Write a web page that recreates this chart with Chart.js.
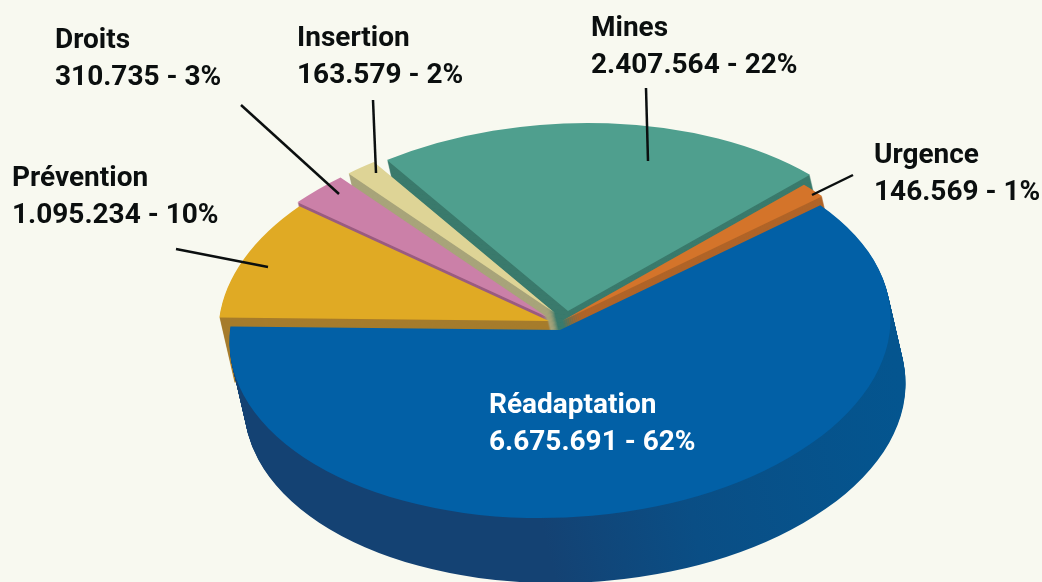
<!DOCTYPE html>
<html>
<head>
<meta charset="utf-8">
<title>Réadaptation</title>
<script src="https://cdn.jsdelivr.net/npm/chart.js@4"></script>
<style>
    html, body { margin: 0; padding: 0; background: #F8F9F0; overflow: hidden; }
    canvas { display: block; }
</style>
</head>
<body>
<canvas id="canvasPie" width="1042" height="582"></canvas>
<script>
"use strict";
// slices go clockwise, starting at the Réadaptation / Urgence boundary
var categories = ['Réadaptation', 'Prévention', 'Droits', 'Insertion', 'Mines', 'Urgence'];
var amounts = [6675691, 1095234, 310735, 163579, 2407564, 146569];
var percents = [62, 10, 3, 2, 22, 1];

var topColors = ['#0260A6', '#E0AA24', '#CB80A8', '#DED496', '#4F9F8E', '#D4742A'];
var sideColors = ['#144273', '#A67C2C', '#9A5C80', '#A8A47A', '#3A7A6C', '#B06428'];

// how the flat pie is laid down to look 3D
var centerX = 553, centerY = 330;
var squash = 0.57, shear = -0.06;
var depthX = 15, depthY = 65;
var sliceShift = [[7, 0], [-4, -9], [-6, -13], [2, -17], [15, -19], [9, -9]];
var backOrder = [4, 3, 2, 5, 1];

// where the captions go: first line x/y, then the leader line
var captionPlaces = [
    { x: 489, y: 413, color: '#FFFFFF' },
    { x: 12, y: 186, color: '#0B0F0F', line: [176, 249, 268, 267] },
    { x: 55, y: 48, color: '#0B0F0F', line: [241, 105, 339, 194] },
    { x: 297, y: 46, color: '#0B0F0F', line: [373, 100, 376, 173] },
    { x: 591, y: 36, color: '#0B0F0F', line: [646, 88, 648, 161] },
    { x: 874, y: 163, color: '#0B0F0F', line: [853, 175, 812, 195] }
];

function formatAmount(n) {
    return String(n).replace(/\B(?=(\d{3})+$)/g, '.');
}

function drawSlice(ctx, arc, index, depth, color) {
    var opts = arc.options;
    arc.options = Object.assign({}, opts, { backgroundColor: color, borderWidth: 0 });
    ctx.save();
    ctx.translate(centerX + sliceShift[index][0] + depth * depthX / depthY,
        centerY + sliceShift[index][1] + depth);
    ctx.transform(1, 0, shear, squash, 0, 0);
    ctx.translate(-arc.x, -arc.y);
    arc.draw(ctx);
    ctx.restore();
    arc.options = opts;
}

function drawSide(ctx, arc, index, color) {
    for (var d = depthY; d > 0; d--) {
        drawSlice(ctx, arc, index, d, color);
    }
}

function blueSide(ctx, arc) {
    var g = ctx.createLinearGradient(arc.x - 330, 0, arc.x + 330, 0);
    g.addColorStop(0, '#144273');
    g.addColorStop(0.5, '#144273');
    g.addColorStop(0.72, '#0A4E85');
    g.addColorStop(1, '#04558F');
    return g;
}

var pie3d = {
    id: 'pie3d',
    beforeDatasetsDraw: function (chart) {
        var ctx = chart.ctx;
        var arcs = chart.getDatasetMeta(0).data;
        backOrder.forEach(function (i) {
            drawSide(ctx, arcs[i], i, sideColors[i]);
        });
        backOrder.forEach(function (i) {
            drawSlice(ctx, arcs[i], i, 0, topColors[i]);
        });
        // the big slice sits in front of everything
        drawSide(ctx, arcs[0], 0, blueSide(ctx, arcs[0]));
        drawSlice(ctx, arcs[0], 0, 0, topColors[0]);
        return false;
    }
};

var captions = {
    id: 'captions',
    afterDraw: function (chart) {
        var ctx = chart.ctx;
        ctx.save();
        ctx.font = 'bold 28px Roboto';
        ctx.textAlign = 'left';
        ctx.textBaseline = 'alphabetic';
        categories.forEach(function (name, i) {
            var place = captionPlaces[i];
            ctx.fillStyle = place.color;
            ctx.fillText(name, place.x, place.y);
            ctx.fillText(formatAmount(amounts[i]) + ' - ' + percents[i] + '%', place.x, place.y + 37);
            if (place.line) {
                ctx.strokeStyle = '#0B0F0F';
                ctx.lineWidth = 2.5;
                ctx.beginPath();
                ctx.moveTo(place.line[0], place.line[1]);
                ctx.lineTo(place.line[2], place.line[3]);
                ctx.stroke();
            }
        });
        ctx.restore();
    }
};

new Chart(document.getElementById('canvasPie'), {
    type: 'pie',
    data: {
        labels: categories,
        datasets: [{
            data: amounts,
            backgroundColor: topColors,
            borderWidth: 0
        }]
    },
    options: {
        responsive: false,
        animation: false,
        radius: 330,
        rotation: 48.5,
        events: [],
        plugins: {
            legend: { display: false },
            tooltip: { enabled: false }
        }
    },
    plugins: [pie3d, captions]
});
</script>
</body>
</html>
